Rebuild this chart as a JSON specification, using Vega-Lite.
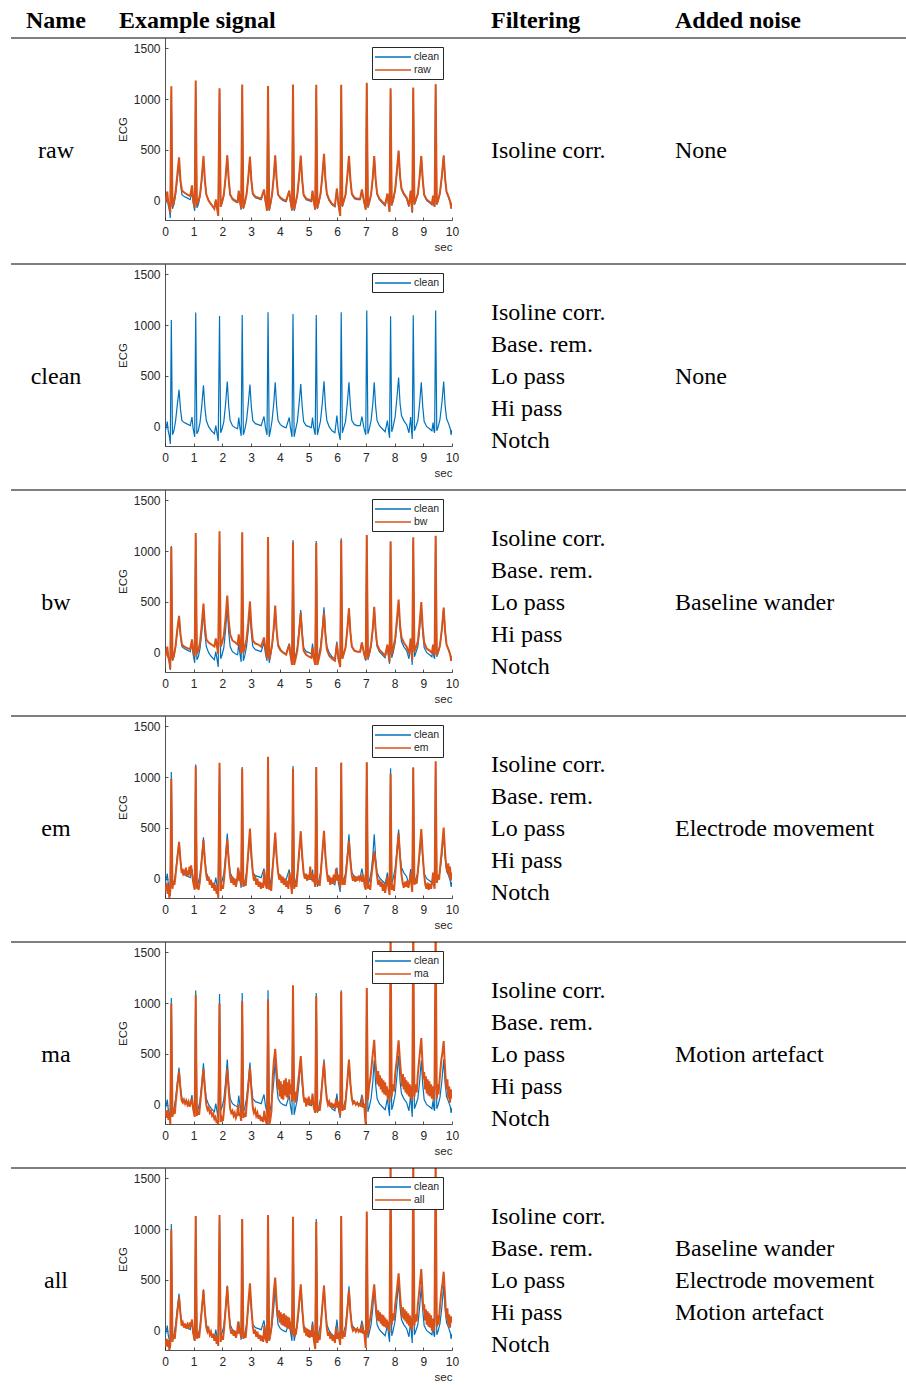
{
"$schema": "https://vega.github.io/schema/vega-lite/v6.json",
"padding": {"left": 10, "top": 0, "right": 0, "bottom": 0},
"background": "white",
"columns": 4,
"spacing": 0,
"bounds": "flush",
"align": "each",
"resolve": {"scale": {"x": "independent", "y": "independent", "color": "independent"}, "axis": {"x": "independent", "y": "independent"}, "legend": {"color": "independent"}},
"config": {
 "view": {"stroke": null},
 "numberFormat": "d",
 "axis": {"grid": false, "labelFlush": false, "domainColor": "#262626", "tickColor": "#262626", "labelColor": "#262626", "titleColor": "#262626", "labelFont": "Liberation Sans", "titleFont": "Liberation Sans", "labelFontSize": 12, "titleFontSize": 11.5, "titleFontWeight": "normal", "tickSize": -3, "domainWidth": 0.8, "tickWidth": 0.8},
 "axisX": {"labelPadding": 9, "titlePadding": 4, "titleAnchor": "end"},
 "axisY": {"labelPadding": 8, "titlePadding": 5},
 "legend": {"orient": "top-right", "offset": 9, "strokeColor": "#262626", "fillColor": "white", "padding": 3, "symbolType": "M-3,0H3", "symbolSize": 144, "symbolStrokeWidth": 1.5, "symbolOffset": 11, "labelFont": "Liberation Sans", "labelFontSize": 10.5, "labelColor": "#262626", "labelOffset": 14, "rowPadding": 0},
 "text": {"font": "Liberation Serif", "fontSize": 24, "color": "black"},
 "rule": {"color": "#000000", "strokeWidth": 1.2}
},
"datasets": {
"clean": [{"t":0,"v":-50},{"t":0.03,"v":-20},{"t":0.08,"v":50},{"t":0.11,"v":-40},{"t":0.15,"v":-90},{"t":0.185,"v":-170},{"t":0.22,"v":1050},{"t":0.26,"v":-80},{"t":0.31,"v":-40},{"t":0.37,"v":60},{"t":0.43,"v":220},{"t":0.49,"v":364},{"t":0.54,"v":170},{"t":0.59,"v":60},{"t":0.67,"v":40},{"t":0.78,"v":25},{"t":0.88,"v":10},{"t":0.94,"v":95},{"t":0.98,"v":-20},{"t":1.035,"v":-100},{"t":1.07,"v":1122},{"t":1.11,"v":-70},{"t":1.16,"v":-40},{"t":1.22,"v":40},{"t":1.28,"v":200},{"t":1.34,"v":407},{"t":1.39,"v":190},{"t":1.44,"v":60},{"t":1.52,"v":0},{"t":1.62,"v":-40},{"t":1.72,"v":-70},{"t":1.77,"v":10},{"t":1.81,"v":-60},{"t":1.855,"v":-140},{"t":1.9,"v":1089},{"t":1.94,"v":-60},{"t":1.99,"v":-20},{"t":2.05,"v":50},{"t":2.11,"v":220},{"t":2.17,"v":444},{"t":2.22,"v":200},{"t":2.27,"v":60},{"t":2.35,"v":10},{"t":2.45,"v":-10},{"t":2.53,"v":-20},{"t":2.57,"v":90},{"t":2.61,"v":-10},{"t":2.655,"v":-90},{"t":2.69,"v":1099},{"t":2.73,"v":-80},{"t":2.78,"v":-30},{"t":2.84,"v":60},{"t":2.9,"v":220},{"t":2.96,"v":414},{"t":3.01,"v":190},{"t":3.06,"v":60},{"t":3.15,"v":30},{"t":3.25,"v":20},{"t":3.35,"v":10},{"t":3.45,"v":100},{"t":3.5,"v":-10},{"t":3.555,"v":-80},{"t":3.59,"v":1126},{"t":3.63,"v":-100},{"t":3.68,"v":-30},{"t":3.73,"v":60},{"t":3.79,"v":230},{"t":3.84,"v":437},{"t":3.89,"v":200},{"t":3.94,"v":60},{"t":4.02,"v":20},{"t":4.12,"v":0},{"t":4.22,"v":-10},{"t":4.33,"v":90},{"t":4.37,"v":-10},{"t":4.425,"v":-100},{"t":4.46,"v":1109},{"t":4.5,"v":-100},{"t":4.55,"v":-30},{"t":4.61,"v":50},{"t":4.67,"v":220},{"t":4.73,"v":420},{"t":4.78,"v":200},{"t":4.83,"v":50},{"t":4.92,"v":10},{"t":5.02,"v":0},{"t":5.1,"v":-10},{"t":5.14,"v":90},{"t":5.18,"v":-10},{"t":5.235,"v":-80},{"t":5.27,"v":1099},{"t":5.31,"v":-80},{"t":5.36,"v":-20},{"t":5.42,"v":60},{"t":5.48,"v":230},{"t":5.54,"v":447},{"t":5.59,"v":200},{"t":5.64,"v":60},{"t":5.72,"v":0},{"t":5.82,"v":-40},{"t":5.92,"v":-60},{"t":5.99,"v":110},{"t":6.04,"v":-40},{"t":6.105,"v":-130},{"t":6.14,"v":1126},{"t":6.18,"v":-60},{"t":6.23,"v":-10},{"t":6.29,"v":50},{"t":6.35,"v":220},{"t":6.41,"v":437},{"t":6.46,"v":200},{"t":6.51,"v":60},{"t":6.6,"v":20},{"t":6.7,"v":10},{"t":6.8,"v":10},{"t":6.86,"v":100},{"t":6.93,"v":-10},{"t":6.995,"v":-80},{"t":7.03,"v":1142},{"t":7.07,"v":-70},{"t":7.12,"v":-20},{"t":7.18,"v":60},{"t":7.24,"v":220},{"t":7.29,"v":437},{"t":7.34,"v":200},{"t":7.39,"v":60},{"t":7.47,"v":10},{"t":7.57,"v":-20},{"t":7.67,"v":-50},{"t":7.75,"v":60},{"t":7.79,"v":-40},{"t":7.825,"v":-110},{"t":7.86,"v":1086},{"t":7.9,"v":-50},{"t":7.95,"v":0},{"t":8.02,"v":100},{"t":8.08,"v":280},{"t":8.14,"v":483},{"t":8.19,"v":230},{"t":8.24,"v":110},{"t":8.32,"v":60},{"t":8.42,"v":20},{"t":8.5,"v":-60},{"t":8.56,"v":95},{"t":8.59,"v":-40},{"t":8.615,"v":-120},{"t":8.65,"v":1096},{"t":8.69,"v":-40},{"t":8.74,"v":0},{"t":8.81,"v":60},{"t":8.87,"v":220},{"t":8.93,"v":437},{"t":8.98,"v":200},{"t":9.03,"v":50},{"t":9.12,"v":0},{"t":9.22,"v":-20},{"t":9.3,"v":-40},{"t":9.34,"v":40},{"t":9.37,"v":-40},{"t":9.395,"v":-60},{"t":9.43,"v":1142},{"t":9.47,"v":-40},{"t":9.52,"v":0},{"t":9.58,"v":70},{"t":9.65,"v":240},{"t":9.71,"v":444},{"t":9.76,"v":210},{"t":9.81,"v":80},{"t":9.88,"v":30},{"t":9.94,"v":-20},{"t":9.97,"v":-80},{"t":10,"v":-30}],
"raw": [{"t":0,"v":-20},{"t":0.03,"v":10},{"t":0.08,"v":90},{"t":0.11,"v":-10},{"t":0.15,"v":-60},{"t":0.185,"v":-120},{"t":0.22,"v":1126},{"t":0.26,"v":-60},{"t":0.31,"v":-10},{"t":0.37,"v":90},{"t":0.43,"v":260},{"t":0.49,"v":426},{"t":0.54,"v":200},{"t":0.59,"v":100},{"t":0.67,"v":80},{"t":0.78,"v":60},{"t":0.88,"v":45},{"t":0.94,"v":150},{"t":0.98,"v":10},{"t":1.035,"v":-70},{"t":1.07,"v":1182},{"t":1.11,"v":-40},{"t":1.16,"v":-10},{"t":1.22,"v":60},{"t":1.28,"v":220},{"t":1.34,"v":440},{"t":1.39,"v":200},{"t":1.44,"v":60},{"t":1.52,"v":0},{"t":1.62,"v":-40},{"t":1.72,"v":-80},{"t":1.77,"v":10},{"t":1.81,"v":-70},{"t":1.855,"v":-150},{"t":1.9,"v":1105},{"t":1.94,"v":-60},{"t":1.99,"v":-10},{"t":2.05,"v":60},{"t":2.11,"v":230},{"t":2.17,"v":446},{"t":2.22,"v":210},{"t":2.27,"v":60},{"t":2.35,"v":20},{"t":2.45,"v":0},{"t":2.53,"v":-10},{"t":2.57,"v":100},{"t":2.61,"v":0},{"t":2.655,"v":-80},{"t":2.69,"v":1142},{"t":2.73,"v":-70},{"t":2.78,"v":-20},{"t":2.84,"v":60},{"t":2.9,"v":220},{"t":2.96,"v":433},{"t":3.01,"v":200},{"t":3.06,"v":70},{"t":3.15,"v":40},{"t":3.25,"v":30},{"t":3.35,"v":20},{"t":3.45,"v":110},{"t":3.5,"v":0},{"t":3.555,"v":-100},{"t":3.59,"v":1129},{"t":3.63,"v":-90},{"t":3.68,"v":-20},{"t":3.73,"v":60},{"t":3.79,"v":240},{"t":3.84,"v":446},{"t":3.89,"v":210},{"t":3.94,"v":60},{"t":4.02,"v":30},{"t":4.12,"v":10},{"t":4.22,"v":0},{"t":4.33,"v":100},{"t":4.37,"v":0},{"t":4.425,"v":-90},{"t":4.46,"v":1142},{"t":4.5,"v":-90},{"t":4.55,"v":-20},{"t":4.61,"v":60},{"t":4.67,"v":230},{"t":4.73,"v":443},{"t":4.78,"v":210},{"t":4.83,"v":60},{"t":4.92,"v":20},{"t":5.02,"v":10},{"t":5.1,"v":0},{"t":5.14,"v":100},{"t":5.18,"v":0},{"t":5.235,"v":-90},{"t":5.27,"v":1139},{"t":5.31,"v":-70},{"t":5.36,"v":-10},{"t":5.42,"v":70},{"t":5.48,"v":240},{"t":5.54,"v":460},{"t":5.59,"v":210},{"t":5.64,"v":70},{"t":5.72,"v":10},{"t":5.82,"v":-30},{"t":5.92,"v":-50},{"t":5.99,"v":120},{"t":6.04,"v":-30},{"t":6.105,"v":-150},{"t":6.14,"v":1139},{"t":6.18,"v":-50},{"t":6.23,"v":0},{"t":6.29,"v":60},{"t":6.35,"v":230},{"t":6.41,"v":440},{"t":6.46,"v":210},{"t":6.51,"v":70},{"t":6.6,"v":30},{"t":6.7,"v":20},{"t":6.8,"v":20},{"t":6.86,"v":110},{"t":6.93,"v":0},{"t":6.995,"v":-90},{"t":7.03,"v":1159},{"t":7.07,"v":-60},{"t":7.12,"v":-10},{"t":7.18,"v":60},{"t":7.24,"v":230},{"t":7.29,"v":440},{"t":7.34,"v":210},{"t":7.39,"v":70},{"t":7.47,"v":20},{"t":7.57,"v":-10},{"t":7.67,"v":-40},{"t":7.75,"v":70},{"t":7.79,"v":-30},{"t":7.825,"v":-110},{"t":7.86,"v":1106},{"t":7.9,"v":-40},{"t":7.95,"v":10},{"t":8.02,"v":110},{"t":8.08,"v":290},{"t":8.14,"v":493},{"t":8.19,"v":240},{"t":8.24,"v":120},{"t":8.32,"v":70},{"t":8.42,"v":30},{"t":8.5,"v":-50},{"t":8.56,"v":100},{"t":8.59,"v":-30},{"t":8.615,"v":-110},{"t":8.65,"v":1112},{"t":8.69,"v":-30},{"t":8.74,"v":10},{"t":8.81,"v":70},{"t":8.87,"v":230},{"t":8.93,"v":440},{"t":8.98,"v":210},{"t":9.03,"v":60},{"t":9.12,"v":10},{"t":9.22,"v":-10},{"t":9.3,"v":-30},{"t":9.34,"v":50},{"t":9.37,"v":-30},{"t":9.395,"v":-60},{"t":9.43,"v":1146},{"t":9.47,"v":-30},{"t":9.52,"v":10},{"t":9.58,"v":80},{"t":9.65,"v":250},{"t":9.71,"v":443},{"t":9.76,"v":220},{"t":9.81,"v":90},{"t":9.88,"v":40},{"t":9.94,"v":-10},{"t":9.97,"v":-70},{"t":10,"v":-20}],
"bw": [{"t":0,"v":-50},{"t":0.03,"v":-20},{"t":0.08,"v":60},{"t":0.11,"v":-40},{"t":0.15,"v":-80},{"t":0.185,"v":-160},{"t":0.22,"v":1040},{"t":0.26,"v":-70},{"t":0.31,"v":-30},{"t":0.37,"v":70},{"t":0.43,"v":230},{"t":0.49,"v":360},{"t":0.54,"v":180},{"t":0.59,"v":80},{"t":0.67,"v":60},{"t":0.78,"v":45},{"t":0.88,"v":35},{"t":0.94,"v":130},{"t":0.98,"v":20},{"t":1.035,"v":-40},{"t":1.07,"v":1177},{"t":1.11,"v":-10},{"t":1.16,"v":20},{"t":1.22,"v":100},{"t":1.28,"v":270},{"t":1.34,"v":484},{"t":1.39,"v":260},{"t":1.44,"v":130},{"t":1.52,"v":100},{"t":1.62,"v":80},{"t":1.72,"v":60},{"t":1.77,"v":140},{"t":1.81,"v":60},{"t":1.855,"v":-10},{"t":1.9,"v":1193},{"t":1.94,"v":60},{"t":1.99,"v":100},{"t":2.05,"v":170},{"t":2.11,"v":340},{"t":2.17,"v":562},{"t":2.22,"v":320},{"t":2.27,"v":180},{"t":2.35,"v":120},{"t":2.45,"v":100},{"t":2.53,"v":80},{"t":2.57,"v":180},{"t":2.61,"v":70},{"t":2.655,"v":-10},{"t":2.69,"v":1184},{"t":2.73,"v":0},{"t":2.78,"v":50},{"t":2.84,"v":130},{"t":2.9,"v":290},{"t":2.96,"v":504},{"t":3.01,"v":260},{"t":3.06,"v":120},{"t":3.15,"v":90},{"t":3.25,"v":80},{"t":3.35,"v":60},{"t":3.45,"v":150},{"t":3.5,"v":40},{"t":3.555,"v":-50},{"t":3.59,"v":1138},{"t":3.63,"v":-70},{"t":3.68,"v":0},{"t":3.73,"v":80},{"t":3.79,"v":250},{"t":3.84,"v":464},{"t":3.89,"v":220},{"t":3.94,"v":80},{"t":4.02,"v":30},{"t":4.12,"v":0},{"t":4.22,"v":-20},{"t":4.33,"v":80},{"t":4.37,"v":-20},{"t":4.425,"v":-120},{"t":4.46,"v":1089},{"t":4.5,"v":-120},{"t":4.55,"v":-60},{"t":4.61,"v":20},{"t":4.67,"v":190},{"t":4.73,"v":392},{"t":4.78,"v":170},{"t":4.83,"v":20},{"t":4.92,"v":-20},{"t":5.02,"v":-40},{"t":5.1,"v":-50},{"t":5.14,"v":50},{"t":5.18,"v":-50},{"t":5.235,"v":-120},{"t":5.27,"v":1079},{"t":5.31,"v":-120},{"t":5.36,"v":-60},{"t":5.42,"v":20},{"t":5.48,"v":190},{"t":5.54,"v":392},{"t":5.59,"v":170},{"t":5.64,"v":30},{"t":5.72,"v":-30},{"t":5.82,"v":-60},{"t":5.92,"v":-80},{"t":5.99,"v":90},{"t":6.04,"v":-60},{"t":6.105,"v":-140},{"t":6.14,"v":1105},{"t":6.18,"v":-60},{"t":6.23,"v":-10},{"t":6.29,"v":50},{"t":6.35,"v":220},{"t":6.41,"v":435},{"t":6.46,"v":200},{"t":6.51,"v":60},{"t":6.6,"v":20},{"t":6.7,"v":10},{"t":6.8,"v":10},{"t":6.86,"v":100},{"t":6.93,"v":0},{"t":6.995,"v":-70},{"t":7.03,"v":1158},{"t":7.07,"v":-50},{"t":7.12,"v":0},{"t":7.18,"v":80},{"t":7.24,"v":240},{"t":7.29,"v":451},{"t":7.34,"v":220},{"t":7.39,"v":80},{"t":7.47,"v":30},{"t":7.57,"v":0},{"t":7.67,"v":-30},{"t":7.75,"v":80},{"t":7.79,"v":-20},{"t":7.825,"v":-90},{"t":7.86,"v":1095},{"t":7.9,"v":-20},{"t":7.95,"v":40},{"t":8.02,"v":140},{"t":8.08,"v":320},{"t":8.14,"v":523},{"t":8.19,"v":270},{"t":8.24,"v":150},{"t":8.32,"v":100},{"t":8.42,"v":60},{"t":8.5,"v":-10},{"t":8.56,"v":140},{"t":8.59,"v":10},{"t":8.615,"v":-70},{"t":8.65,"v":1135},{"t":8.69,"v":10},{"t":8.74,"v":50},{"t":8.81,"v":110},{"t":8.87,"v":280},{"t":8.93,"v":497},{"t":8.98,"v":250},{"t":9.03,"v":100},{"t":9.12,"v":40},{"t":9.22,"v":20},{"t":9.3,"v":0},{"t":9.34,"v":80},{"t":9.37,"v":0},{"t":9.395,"v":-20},{"t":9.43,"v":1151},{"t":9.47,"v":-20},{"t":9.52,"v":10},{"t":9.58,"v":70},{"t":9.65,"v":240},{"t":9.71,"v":441},{"t":9.76,"v":210},{"t":9.81,"v":80},{"t":9.88,"v":30},{"t":9.94,"v":-20},{"t":9.97,"v":-80},{"t":10,"v":-40}],
"em": [{"t":0,"v":-80},{"t":0.03,"v":-120},{"t":0.06,"v":-40},{"t":0.09,"v":-150},{"t":0.12,"v":-60},{"t":0.15,"v":-190},{"t":0.185,"v":-120},{"t":0.22,"v":983},{"t":0.26,"v":-100},{"t":0.29,"v":-20},{"t":0.33,"v":-60},{"t":0.37,"v":40},{"t":0.43,"v":200},{"t":0.49,"v":360},{"t":0.54,"v":180},{"t":0.58,"v":60},{"t":0.61,"v":100},{"t":0.64,"v":30},{"t":0.67,"v":90},{"t":0.7,"v":40},{"t":0.73,"v":110},{"t":0.76,"v":20},{"t":0.79,"v":80},{"t":0.82,"v":30},{"t":0.85,"v":120},{"t":0.88,"v":40},{"t":0.91,"v":130},{"t":0.94,"v":60},{"t":0.98,"v":-30},{"t":1.035,"v":-110},{"t":1.07,"v":1105},{"t":1.11,"v":-100},{"t":1.14,"v":-60},{"t":1.17,"v":-110},{"t":1.21,"v":-40},{"t":1.28,"v":180},{"t":1.34,"v":380},{"t":1.39,"v":170},{"t":1.44,"v":30},{"t":1.48,"v":-20},{"t":1.52,"v":20},{"t":1.56,"v":-60},{"t":1.6,"v":-10},{"t":1.64,"v":-90},{"t":1.68,"v":-40},{"t":1.72,"v":-120},{"t":1.76,"v":-60},{"t":1.8,"v":-150},{"t":1.83,"v":-80},{"t":1.855,"v":-190},{"t":1.9,"v":1139},{"t":1.94,"v":-120},{"t":1.98,"v":-60},{"t":2.02,"v":-100},{"t":2.06,"v":0},{"t":2.11,"v":180},{"t":2.17,"v":387},{"t":2.22,"v":180},{"t":2.27,"v":20},{"t":2.31,"v":-40},{"t":2.35,"v":20},{"t":2.39,"v":-60},{"t":2.43,"v":0},{"t":2.47,"v":-80},{"t":2.51,"v":-20},{"t":2.55,"v":110},{"t":2.58,"v":-20},{"t":2.61,"v":60},{"t":2.655,"v":-60},{"t":2.69,"v":1082},{"t":2.73,"v":-80},{"t":2.77,"v":-20},{"t":2.81,"v":-70},{"t":2.85,"v":60},{"t":2.9,"v":260},{"t":2.96,"v":493},{"t":3.01,"v":240},{"t":3.06,"v":60},{"t":3.1,"v":-20},{"t":3.14,"v":30},{"t":3.18,"v":-60},{"t":3.22,"v":0},{"t":3.26,"v":-80},{"t":3.3,"v":-30},{"t":3.34,"v":-100},{"t":3.38,"v":-40},{"t":3.42,"v":-90},{"t":3.46,"v":80},{"t":3.5,"v":-60},{"t":3.555,"v":-100},{"t":3.59,"v":1198},{"t":3.63,"v":-110},{"t":3.66,"v":-60},{"t":3.7,"v":-120},{"t":3.74,"v":60},{"t":3.79,"v":250},{"t":3.84,"v":453},{"t":3.89,"v":220},{"t":3.94,"v":60},{"t":3.98,"v":-10},{"t":4.02,"v":40},{"t":4.06,"v":-40},{"t":4.1,"v":20},{"t":4.14,"v":-60},{"t":4.18,"v":0},{"t":4.22,"v":-80},{"t":4.26,"v":-20},{"t":4.3,"v":-100},{"t":4.34,"v":60},{"t":4.38,"v":-40},{"t":4.425,"v":-150},{"t":4.46,"v":1082},{"t":4.5,"v":-100},{"t":4.54,"v":-30},{"t":4.58,"v":-80},{"t":4.62,"v":60},{"t":4.67,"v":250},{"t":4.73,"v":467},{"t":4.78,"v":230},{"t":4.83,"v":60},{"t":4.87,"v":0},{"t":4.91,"v":50},{"t":4.95,"v":-20},{"t":4.99,"v":40},{"t":5.03,"v":-10},{"t":5.06,"v":120},{"t":5.09,"v":0},{"t":5.12,"v":60},{"t":5.15,"v":-30},{"t":5.18,"v":40},{"t":5.235,"v":-80},{"t":5.27,"v":1099},{"t":5.31,"v":-60},{"t":5.35,"v":-20},{"t":5.39,"v":-70},{"t":5.43,"v":60},{"t":5.48,"v":250},{"t":5.54,"v":470},{"t":5.59,"v":230},{"t":5.64,"v":60},{"t":5.68,"v":-30},{"t":5.72,"v":30},{"t":5.76,"v":-60},{"t":5.8,"v":10},{"t":5.84,"v":-50},{"t":5.88,"v":40},{"t":5.92,"v":-40},{"t":5.96,"v":100},{"t":6,"v":-20},{"t":6.04,"v":40},{"t":6.105,"v":-90},{"t":6.14,"v":1142},{"t":6.18,"v":-60},{"t":6.22,"v":-20},{"t":6.26,"v":-60},{"t":6.3,"v":40},{"t":6.35,"v":180},{"t":6.41,"v":370},{"t":6.46,"v":170},{"t":6.51,"v":30},{"t":6.55,"v":-20},{"t":6.59,"v":30},{"t":6.63,"v":-30},{"t":6.67,"v":20},{"t":6.71,"v":-20},{"t":6.75,"v":30},{"t":6.79,"v":-10},{"t":6.83,"v":20},{"t":6.87,"v":-30},{"t":6.91,"v":40},{"t":6.95,"v":-60},{"t":6.995,"v":-110},{"t":7.03,"v":1145},{"t":7.07,"v":-100},{"t":7.11,"v":-60},{"t":7.15,"v":-110},{"t":7.19,"v":20},{"t":7.24,"v":140},{"t":7.29,"v":270},{"t":7.34,"v":150},{"t":7.39,"v":20},{"t":7.43,"v":-60},{"t":7.47,"v":-10},{"t":7.51,"v":-80},{"t":7.55,"v":-30},{"t":7.59,"v":-120},{"t":7.63,"v":-50},{"t":7.67,"v":-140},{"t":7.71,"v":-60},{"t":7.75,"v":20},{"t":7.79,"v":-100},{"t":7.825,"v":-160},{"t":7.86,"v":1033},{"t":7.9,"v":-110},{"t":7.94,"v":-60},{"t":7.98,"v":-120},{"t":8.02,"v":40},{"t":8.08,"v":240},{"t":8.14,"v":447},{"t":8.19,"v":210},{"t":8.24,"v":40},{"t":8.28,"v":-40},{"t":8.32,"v":-90},{"t":8.36,"v":-30},{"t":8.4,"v":-80},{"t":8.44,"v":-20},{"t":8.48,"v":-90},{"t":8.52,"v":-30},{"t":8.56,"v":60},{"t":8.59,"v":-60},{"t":8.615,"v":-130},{"t":8.65,"v":1092},{"t":8.69,"v":-60},{"t":8.73,"v":-10},{"t":8.77,"v":-50},{"t":8.81,"v":70},{"t":8.87,"v":270},{"t":8.93,"v":487},{"t":8.98,"v":240},{"t":9.03,"v":40},{"t":9.07,"v":-60},{"t":9.11,"v":-100},{"t":9.15,"v":-40},{"t":9.19,"v":-110},{"t":9.23,"v":-50},{"t":9.27,"v":-100},{"t":9.31,"v":-30},{"t":9.34,"v":60},{"t":9.37,"v":-60},{"t":9.395,"v":-100},{"t":9.43,"v":1155},{"t":9.47,"v":-40},{"t":9.51,"v":40},{"t":9.55,"v":-10},{"t":9.59,"v":120},{"t":9.65,"v":300},{"t":9.71,"v":503},{"t":9.76,"v":250},{"t":9.8,"v":120},{"t":9.84,"v":60},{"t":9.87,"v":150},{"t":9.9,"v":20},{"t":9.93,"v":120},{"t":9.96,"v":-20},{"t":10,"v":60}],
"ma": [{"t":0,"v":-100},{"t":0.03,"v":-60},{"t":0.06,"v":-130},{"t":0.09,"v":-50},{"t":0.12,"v":-150},{"t":0.15,"v":-100},{"t":0.185,"v":-190},{"t":0.22,"v":994},{"t":0.26,"v":-120},{"t":0.3,"v":-60},{"t":0.34,"v":-90},{"t":0.38,"v":40},{"t":0.43,"v":180},{"t":0.49,"v":326},{"t":0.54,"v":150},{"t":0.58,"v":40},{"t":0.62,"v":20},{"t":0.66,"v":50},{"t":0.7,"v":10},{"t":0.74,"v":40},{"t":0.78,"v":0},{"t":0.82,"v":30},{"t":0.86,"v":-20},{"t":0.9,"v":20},{"t":0.94,"v":60},{"t":0.98,"v":-40},{"t":1.035,"v":-120},{"t":1.07,"v":1076},{"t":1.11,"v":-110},{"t":1.15,"v":-60},{"t":1.19,"v":-100},{"t":1.23,"v":20},{"t":1.28,"v":170},{"t":1.34,"v":352},{"t":1.39,"v":150},{"t":1.44,"v":0},{"t":1.48,"v":-50},{"t":1.52,"v":-30},{"t":1.56,"v":-80},{"t":1.6,"v":-60},{"t":1.64,"v":-110},{"t":1.68,"v":-90},{"t":1.72,"v":-140},{"t":1.76,"v":-120},{"t":1.8,"v":-180},{"t":1.83,"v":-150},{"t":1.855,"v":-200},{"t":1.9,"v":994},{"t":1.94,"v":-170},{"t":1.98,"v":-130},{"t":2.02,"v":-160},{"t":2.06,"v":-40},{"t":2.11,"v":140},{"t":2.17,"v":352},{"t":2.22,"v":140},{"t":2.27,"v":-40},{"t":2.31,"v":-80},{"t":2.35,"v":-60},{"t":2.39,"v":-110},{"t":2.43,"v":-80},{"t":2.47,"v":-130},{"t":2.51,"v":-100},{"t":2.55,"v":0},{"t":2.58,"v":-110},{"t":2.61,"v":-80},{"t":2.655,"v":-160},{"t":2.69,"v":1017},{"t":2.73,"v":-130},{"t":2.77,"v":-80},{"t":2.81,"v":-120},{"t":2.85,"v":20},{"t":2.9,"v":170},{"t":2.96,"v":368},{"t":3.01,"v":150},{"t":3.06,"v":-30},{"t":3.1,"v":-80},{"t":3.14,"v":-50},{"t":3.18,"v":-110},{"t":3.22,"v":-80},{"t":3.26,"v":-140},{"t":3.3,"v":-100},{"t":3.34,"v":-160},{"t":3.38,"v":-120},{"t":3.42,"v":-170},{"t":3.46,"v":-60},{"t":3.5,"v":-150},{"t":3.555,"v":-200},{"t":3.59,"v":1036},{"t":3.63,"v":-200},{"t":3.67,"v":-150},{"t":3.71,"v":-60},{"t":3.75,"v":250},{"t":3.79,"v":420},{"t":3.84,"v":550},{"t":3.88,"v":380},{"t":3.91,"v":270},{"t":3.94,"v":150},{"t":3.97,"v":250},{"t":4,"v":80},{"t":4.03,"v":230},{"t":4.06,"v":60},{"t":4.09,"v":200},{"t":4.12,"v":50},{"t":4.15,"v":240},{"t":4.18,"v":90},{"t":4.21,"v":260},{"t":4.24,"v":70},{"t":4.27,"v":220},{"t":4.3,"v":60},{"t":4.33,"v":250},{"t":4.36,"v":100},{"t":4.39,"v":200},{"t":4.425,"v":30},{"t":4.46,"v":1175},{"t":4.5,"v":40},{"t":4.53,"v":130},{"t":4.56,"v":20},{"t":4.6,"v":120},{"t":4.67,"v":300},{"t":4.73,"v":477},{"t":4.78,"v":260},{"t":4.83,"v":80},{"t":4.86,"v":20},{"t":4.89,"v":70},{"t":4.92,"v":-20},{"t":4.95,"v":60},{"t":4.98,"v":0},{"t":5.01,"v":80},{"t":5.04,"v":-10},{"t":5.07,"v":50},{"t":5.11,"v":0},{"t":5.14,"v":110},{"t":5.18,"v":-20},{"t":5.235,"v":-80},{"t":5.27,"v":1069},{"t":5.31,"v":-70},{"t":5.35,"v":-20},{"t":5.39,"v":-60},{"t":5.43,"v":40},{"t":5.48,"v":220},{"t":5.54,"v":418},{"t":5.59,"v":200},{"t":5.64,"v":50},{"t":5.68,"v":0},{"t":5.72,"v":30},{"t":5.76,"v":-20},{"t":5.8,"v":20},{"t":5.84,"v":-30},{"t":5.88,"v":10},{"t":5.92,"v":-40},{"t":5.96,"v":60},{"t":6,"v":-30},{"t":6.04,"v":30},{"t":6.105,"v":-110},{"t":6.14,"v":1109},{"t":6.18,"v":-60},{"t":6.22,"v":-10},{"t":6.26,"v":-50},{"t":6.3,"v":50},{"t":6.35,"v":220},{"t":6.41,"v":444},{"t":6.46,"v":210},{"t":6.51,"v":60},{"t":6.55,"v":10},{"t":6.6,"v":30},{"t":6.65,"v":0},{"t":6.7,"v":20},{"t":6.75,"v":-10},{"t":6.8,"v":10},{"t":6.84,"v":-20},{"t":6.87,"v":80},{"t":6.9,"v":-30},{"t":6.94,"v":10},{"t":6.97,"v":-120},{"t":6.995,"v":-200},{"t":7.03,"v":1148},{"t":7.07,"v":50},{"t":7.11,"v":180},{"t":7.15,"v":250},{"t":7.19,"v":350},{"t":7.24,"v":500},{"t":7.29,"v":638},{"t":7.33,"v":420},{"t":7.37,"v":300},{"t":7.4,"v":200},{"t":7.43,"v":330},{"t":7.46,"v":180},{"t":7.49,"v":290},{"t":7.52,"v":150},{"t":7.55,"v":260},{"t":7.58,"v":120},{"t":7.61,"v":240},{"t":7.64,"v":100},{"t":7.67,"v":220},{"t":7.7,"v":90},{"t":7.73,"v":180},{"t":7.76,"v":60},{"t":7.79,"v":150},{"t":7.825,"v":20},{"t":7.86,"v":1750},{"t":7.9,"v":80},{"t":7.94,"v":200},{"t":7.98,"v":130},{"t":8.02,"v":300},{"t":8.08,"v":450},{"t":8.14,"v":632},{"t":8.19,"v":420},{"t":8.23,"v":280},{"t":8.26,"v":180},{"t":8.29,"v":300},{"t":8.32,"v":150},{"t":8.35,"v":270},{"t":8.38,"v":120},{"t":8.41,"v":240},{"t":8.44,"v":100},{"t":8.47,"v":220},{"t":8.5,"v":80},{"t":8.53,"v":200},{"t":8.56,"v":60},{"t":8.59,"v":180},{"t":8.615,"v":40},{"t":8.65,"v":1800},{"t":8.69,"v":80},{"t":8.73,"v":200},{"t":8.77,"v":120},{"t":8.81,"v":300},{"t":8.87,"v":480},{"t":8.93,"v":655},{"t":8.97,"v":420},{"t":9,"v":250},{"t":9.03,"v":320},{"t":9.06,"v":150},{"t":9.09,"v":280},{"t":9.12,"v":110},{"t":9.15,"v":250},{"t":9.18,"v":90},{"t":9.21,"v":230},{"t":9.24,"v":80},{"t":9.27,"v":200},{"t":9.3,"v":60},{"t":9.33,"v":180},{"t":9.36,"v":40},{"t":9.39,"v":150},{"t":9.43,"v":1800},{"t":9.47,"v":60},{"t":9.5,"v":200},{"t":9.53,"v":100},{"t":9.57,"v":250},{"t":9.62,"v":420},{"t":9.67,"v":520},{"t":9.71,"v":625},{"t":9.75,"v":400},{"t":9.78,"v":250},{"t":9.81,"v":150},{"t":9.84,"v":250},{"t":9.87,"v":60},{"t":9.9,"v":180},{"t":9.93,"v":20},{"t":9.96,"v":150},{"t":10,"v":60}],
"all": [{"t":0,"v":-100},{"t":0.03,"v":-150},{"t":0.06,"v":-80},{"t":0.09,"v":-160},{"t":0.12,"v":-90},{"t":0.15,"v":-190},{"t":0.185,"v":-140},{"t":0.22,"v":995},{"t":0.26,"v":-110},{"t":0.3,"v":-40},{"t":0.34,"v":-80},{"t":0.38,"v":40},{"t":0.43,"v":180},{"t":0.49,"v":330},{"t":0.54,"v":160},{"t":0.58,"v":50},{"t":0.62,"v":80},{"t":0.66,"v":30},{"t":0.7,"v":70},{"t":0.74,"v":20},{"t":0.78,"v":60},{"t":0.82,"v":20},{"t":0.86,"v":80},{"t":0.9,"v":40},{"t":0.94,"v":110},{"t":0.98,"v":-20},{"t":1.035,"v":-100},{"t":1.07,"v":1128},{"t":1.11,"v":-80},{"t":1.15,"v":-40},{"t":1.19,"v":-70},{"t":1.23,"v":40},{"t":1.28,"v":200},{"t":1.34,"v":396},{"t":1.39,"v":180},{"t":1.44,"v":30},{"t":1.48,"v":-10},{"t":1.52,"v":20},{"t":1.56,"v":-40},{"t":1.6,"v":-10},{"t":1.64,"v":-70},{"t":1.68,"v":-30},{"t":1.72,"v":-100},{"t":1.76,"v":-40},{"t":1.8,"v":-130},{"t":1.83,"v":-70},{"t":1.855,"v":-150},{"t":1.9,"v":1138},{"t":1.94,"v":-110},{"t":1.98,"v":-50},{"t":2.02,"v":-90},{"t":2.06,"v":20},{"t":2.11,"v":200},{"t":2.17,"v":433},{"t":2.22,"v":200},{"t":2.27,"v":30},{"t":2.31,"v":-30},{"t":2.35,"v":10},{"t":2.39,"v":-50},{"t":2.43,"v":0},{"t":2.47,"v":-70},{"t":2.51,"v":-20},{"t":2.55,"v":90},{"t":2.58,"v":-30},{"t":2.61,"v":30},{"t":2.655,"v":-70},{"t":2.69,"v":1098},{"t":2.73,"v":-80},{"t":2.77,"v":-20},{"t":2.81,"v":-70},{"t":2.85,"v":60},{"t":2.9,"v":260},{"t":2.96,"v":466},{"t":3.01,"v":230},{"t":3.06,"v":40},{"t":3.1,"v":-30},{"t":3.14,"v":10},{"t":3.18,"v":-60},{"t":3.22,"v":-10},{"t":3.26,"v":-80},{"t":3.3,"v":-40},{"t":3.34,"v":-100},{"t":3.38,"v":-50},{"t":3.42,"v":-110},{"t":3.46,"v":50},{"t":3.5,"v":-80},{"t":3.555,"v":-120},{"t":3.59,"v":1138},{"t":3.63,"v":-100},{"t":3.67,"v":-40},{"t":3.71,"v":40},{"t":3.75,"v":200},{"t":3.79,"v":380},{"t":3.84,"v":523},{"t":3.88,"v":330},{"t":3.91,"v":200},{"t":3.94,"v":120},{"t":3.97,"v":200},{"t":4,"v":80},{"t":4.03,"v":180},{"t":4.06,"v":60},{"t":4.09,"v":160},{"t":4.12,"v":50},{"t":4.15,"v":170},{"t":4.18,"v":40},{"t":4.21,"v":150},{"t":4.24,"v":30},{"t":4.27,"v":140},{"t":4.3,"v":20},{"t":4.33,"v":130},{"t":4.36,"v":10},{"t":4.39,"v":90},{"t":4.425,"v":-40},{"t":4.46,"v":1121},{"t":4.5,"v":-60},{"t":4.53,"v":20},{"t":4.56,"v":-40},{"t":4.6,"v":60},{"t":4.67,"v":260},{"t":4.73,"v":456},{"t":4.78,"v":230},{"t":4.83,"v":50},{"t":4.86,"v":-20},{"t":4.89,"v":30},{"t":4.92,"v":-50},{"t":4.95,"v":20},{"t":4.98,"v":-60},{"t":5.01,"v":10},{"t":5.04,"v":-70},{"t":5.07,"v":0},{"t":5.11,"v":-60},{"t":5.14,"v":60},{"t":5.18,"v":-80},{"t":5.235,"v":-180},{"t":5.27,"v":1071},{"t":5.31,"v":-120},{"t":5.35,"v":-60},{"t":5.39,"v":-90},{"t":5.43,"v":40},{"t":5.48,"v":230},{"t":5.54,"v":440},{"t":5.59,"v":210},{"t":5.64,"v":20},{"t":5.68,"v":-50},{"t":5.72,"v":-10},{"t":5.76,"v":-80},{"t":5.8,"v":-30},{"t":5.84,"v":-100},{"t":5.88,"v":-50},{"t":5.92,"v":-120},{"t":5.96,"v":40},{"t":6,"v":-80},{"t":6.04,"v":-20},{"t":6.105,"v":-140},{"t":6.14,"v":1128},{"t":6.18,"v":-80},{"t":6.22,"v":-20},{"t":6.26,"v":-60},{"t":6.3,"v":30},{"t":6.35,"v":180},{"t":6.41,"v":396},{"t":6.46,"v":180},{"t":6.51,"v":40},{"t":6.55,"v":0},{"t":6.6,"v":20},{"t":6.65,"v":-10},{"t":6.7,"v":20},{"t":6.75,"v":-10},{"t":6.8,"v":10},{"t":6.84,"v":-20},{"t":6.87,"v":70},{"t":6.9,"v":-30},{"t":6.94,"v":0},{"t":6.97,"v":-100},{"t":6.995,"v":-170},{"t":7.03,"v":1171},{"t":7.07,"v":-40},{"t":7.11,"v":60},{"t":7.15,"v":120},{"t":7.19,"v":200},{"t":7.24,"v":330},{"t":7.29,"v":456},{"t":7.33,"v":300},{"t":7.37,"v":180},{"t":7.4,"v":100},{"t":7.43,"v":200},{"t":7.46,"v":90},{"t":7.49,"v":180},{"t":7.52,"v":70},{"t":7.55,"v":160},{"t":7.58,"v":50},{"t":7.61,"v":150},{"t":7.64,"v":40},{"t":7.67,"v":130},{"t":7.7,"v":30},{"t":7.73,"v":110},{"t":7.76,"v":20},{"t":7.79,"v":90},{"t":7.825,"v":-20},{"t":7.86,"v":1700},{"t":7.9,"v":60},{"t":7.94,"v":170},{"t":7.98,"v":100},{"t":8.02,"v":250},{"t":8.08,"v":400},{"t":8.14,"v":563},{"t":8.19,"v":350},{"t":8.23,"v":220},{"t":8.26,"v":130},{"t":8.29,"v":230},{"t":8.32,"v":110},{"t":8.35,"v":210},{"t":8.38,"v":90},{"t":8.41,"v":190},{"t":8.44,"v":70},{"t":8.47,"v":170},{"t":8.5,"v":50},{"t":8.53,"v":150},{"t":8.56,"v":30},{"t":8.59,"v":130},{"t":8.615,"v":0},{"t":8.65,"v":1750},{"t":8.69,"v":50},{"t":8.73,"v":160},{"t":8.77,"v":90},{"t":8.81,"v":250},{"t":8.87,"v":420},{"t":8.93,"v":606},{"t":8.97,"v":380},{"t":9,"v":200},{"t":9.03,"v":260},{"t":9.06,"v":100},{"t":9.09,"v":210},{"t":9.12,"v":60},{"t":9.15,"v":190},{"t":9.18,"v":40},{"t":9.21,"v":170},{"t":9.24,"v":30},{"t":9.27,"v":150},{"t":9.3,"v":0},{"t":9.33,"v":120},{"t":9.36,"v":-10},{"t":9.39,"v":100},{"t":9.43,"v":1750},{"t":9.47,"v":40},{"t":9.5,"v":150},{"t":9.53,"v":60},{"t":9.57,"v":200},{"t":9.62,"v":360},{"t":9.67,"v":470},{"t":9.71,"v":580},{"t":9.75,"v":380},{"t":9.78,"v":220},{"t":9.81,"v":120},{"t":9.84,"v":220},{"t":9.87,"v":50},{"t":9.9,"v":160},{"t":9.93,"v":30},{"t":9.96,"v":140},{"t":10,"v":80}]
},
"concat": [
{"width": 90, "height": 38, "data": {"values": [{"h": "Name"}]}, "mark": {"type": "text", "fontWeight": "bold", "dy": 2}, "encoding": {"text": {"field": "h"}}},
{"width": 64, "height": 38, "data": {"values": [{"h": "Example signal"}]}, "mark": {"type": "text", "fontWeight": "bold", "align": "left", "dx": -14, "dy": 2}, "encoding": {"text": {"field": "h"}}},
{"width": 287, "height": 38, "data": {"values": [{"h": ""}]}, "mark": "text", "encoding": {"text": {"field": "h"}}},
{"width": 455, "height": 38, "data": {"values": [{"col": "Filtering"}, {"col": "Added noise"}]}, "mark": {"type": "text", "fontWeight": "bold", "align": "left", "dy": 2}, "encoding": {"x": {"field": "col", "type": "nominal", "scale": {"type": "band", "domain": ["Filtering", "Added noise"], "paddingInner": 0, "paddingOuter": 0.2364, "align": 0.448}, "axis": null, "bandPosition": 0}, "text": {"field": "col"}}},

{"width": 90, "height": 225.4, "data": {"values": [{"name": "raw"}]}, "layer": [{"mark": "text", "encoding": {"text": {"field": "name"}}}, {"mark": "rule", "encoding": {"y": {"datum": 1, "type": "quantitative", "scale": {"domain": [0, 1]}, "axis": null}}}]},
{"width": 64, "height": 225.4, "data": {"values": [{}]}, "mark": "rule", "encoding": {"y": {"datum": 1, "type": "quantitative", "scale": {"domain": [0, 1]}, "axis": null}}},
{"width": 287, "height": 182, "layer": [
 {"data": {"name": "clean"}, "mark": {"type": "line", "strokeWidth": 1.2, "clip": true}, "encoding": {"x": {"field": "t", "type": "quantitative", "scale": {"domain": [0, 10], "nice": false}, "axis": {"values": [0,1,2,3,4,5,6,7,8,9,10], "title": "sec"}}, "y": {"field": "v", "type": "quantitative", "scale": {"domain": [-190, 1600], "nice": false, "zero": false}, "axis": {"values": [0,500,1000,1500], "title": "ECG"}}, "color": {"datum": "clean", "type": "nominal", "scale": {"domain": ["clean", "raw"], "range": ["#0072BD", "#D95319"]}, "legend": {"title": null}}}},
 {"data": {"name": "raw"}, "mark": {"type": "line", "strokeWidth": 2, "clip": true}, "encoding": {"x": {"field": "t", "type": "quantitative", "scale": {"domain": [0, 10], "nice": false}, "axis": {"values": [0,1,2,3,4,5,6,7,8,9,10], "title": "sec"}}, "y": {"field": "v", "type": "quantitative", "scale": {"domain": [-190, 1600], "nice": false, "zero": false}, "axis": {"values": [0,500,1000,1500], "title": "ECG"}}, "color": {"datum": "raw", "type": "nominal", "scale": {"domain": ["clean", "raw"], "range": ["#0072BD", "#D95319"]}, "legend": {"title": null}}}},
 {"data": {"values": [{}]}, "mark": "rule", "encoding": {"y": {"datum": 1600, "type": "quantitative", "axis": {"values": [0,500,1000,1500], "title": "ECG"}}}}
]},
{"width": 455, "height": 225.4, "layer": [
 {"data": {"values": [{"col": "Filtering", "txt": "Isoline corr."}, {"col": "Added noise", "txt": "None"}]}, "mark": {"type": "text", "align": "left"}, "encoding": {"x": {"field": "col", "type": "nominal", "scale": {"type": "band", "domain": ["Filtering", "Added noise"], "paddingInner": 0, "paddingOuter": 0.2364, "align": 0.448}, "axis": null, "bandPosition": 0}, "text": {"field": "txt"}}},
 {"data": {"values": [{}]}, "mark": "rule", "encoding": {"y": {"datum": 1, "type": "quantitative", "scale": {"domain": [0, 1]}, "axis": null}}}]},

{"width": 90, "height": 225.4, "data": {"values": [{"name": "clean"}]}, "layer": [{"mark": "text", "encoding": {"text": {"field": "name"}}}, {"mark": "rule", "encoding": {"y": {"datum": 1, "type": "quantitative", "scale": {"domain": [0, 1]}, "axis": null}}}]},
{"width": 64, "height": 225.4, "data": {"values": [{}]}, "mark": "rule", "encoding": {"y": {"datum": 1, "type": "quantitative", "scale": {"domain": [0, 1]}, "axis": null}}},
{"width": 287, "height": 182, "layer": [
 {"data": {"name": "clean"}, "mark": {"type": "line", "strokeWidth": 1.2, "clip": true}, "encoding": {"x": {"field": "t", "type": "quantitative", "scale": {"domain": [0, 10], "nice": false}, "axis": {"values": [0,1,2,3,4,5,6,7,8,9,10], "title": "sec"}}, "y": {"field": "v", "type": "quantitative", "scale": {"domain": [-190, 1600], "nice": false, "zero": false}, "axis": {"values": [0,500,1000,1500], "title": "ECG"}}, "color": {"datum": "clean", "type": "nominal", "scale": {"domain": ["clean"], "range": ["#0072BD"]}, "legend": {"title": null}}}},
 {"data": {"values": [{}]}, "mark": "rule", "encoding": {"y": {"datum": 1600, "type": "quantitative", "axis": {"values": [0,500,1000,1500], "title": "ECG"}}}}
]},
{"width": 455, "height": 225.4, "layer": [
 {"data": {"values": [{"col": "Filtering", "txt": "Isoline corr.\nBase. rem.\nLo pass\nHi pass\nNotch"}]}, "mark": {"type": "text", "align": "left", "lineBreak": "\n", "lineHeight": 32, "dy": -64}, "encoding": {"x": {"field": "col", "type": "nominal", "scale": {"type": "band", "domain": ["Filtering", "Added noise"], "paddingInner": 0, "paddingOuter": 0.2364, "align": 0.448}, "axis": null, "bandPosition": 0}, "text": {"field": "txt"}}},
 {"data": {"values": [{"col": "Added noise", "txt": "None"}]}, "mark": {"type": "text", "align": "left"}, "encoding": {"x": {"field": "col", "type": "nominal", "scale": {"type": "band", "domain": ["Filtering", "Added noise"], "paddingInner": 0, "paddingOuter": 0.2364, "align": 0.448}, "axis": null, "bandPosition": 0}, "text": {"field": "txt"}}},
 {"data": {"values": [{}]}, "mark": "rule", "encoding": {"y": {"datum": 1, "type": "quantitative", "scale": {"domain": [0, 1]}, "axis": null}}}]},

{"width": 90, "height": 225.4, "data": {"values": [{"name": "bw"}]}, "layer": [{"mark": "text", "encoding": {"text": {"field": "name"}}}, {"mark": "rule", "encoding": {"y": {"datum": 1, "type": "quantitative", "scale": {"domain": [0, 1]}, "axis": null}}}]},
{"width": 64, "height": 225.4, "data": {"values": [{}]}, "mark": "rule", "encoding": {"y": {"datum": 1, "type": "quantitative", "scale": {"domain": [0, 1]}, "axis": null}}},
{"width": 287, "height": 182, "layer": [
 {"data": {"name": "clean"}, "mark": {"type": "line", "strokeWidth": 1.2, "clip": true}, "encoding": {"x": {"field": "t", "type": "quantitative", "scale": {"domain": [0, 10], "nice": false}, "axis": {"values": [0,1,2,3,4,5,6,7,8,9,10], "title": "sec"}}, "y": {"field": "v", "type": "quantitative", "scale": {"domain": [-190, 1600], "nice": false, "zero": false}, "axis": {"values": [0,500,1000,1500], "title": "ECG"}}, "color": {"datum": "clean", "type": "nominal", "scale": {"domain": ["clean", "bw"], "range": ["#0072BD", "#D95319"]}, "legend": {"title": null}}}},
 {"data": {"name": "bw"}, "mark": {"type": "line", "strokeWidth": 2, "clip": true}, "encoding": {"x": {"field": "t", "type": "quantitative", "scale": {"domain": [0, 10], "nice": false}, "axis": {"values": [0,1,2,3,4,5,6,7,8,9,10], "title": "sec"}}, "y": {"field": "v", "type": "quantitative", "scale": {"domain": [-190, 1600], "nice": false, "zero": false}, "axis": {"values": [0,500,1000,1500], "title": "ECG"}}, "color": {"datum": "bw", "type": "nominal", "scale": {"domain": ["clean", "bw"], "range": ["#0072BD", "#D95319"]}, "legend": {"title": null}}}},
 {"data": {"values": [{}]}, "mark": "rule", "encoding": {"y": {"datum": 1600, "type": "quantitative", "axis": {"values": [0,500,1000,1500], "title": "ECG"}}}}
]},
{"width": 455, "height": 225.4, "layer": [
 {"data": {"values": [{"col": "Filtering", "txt": "Isoline corr.\nBase. rem.\nLo pass\nHi pass\nNotch"}]}, "mark": {"type": "text", "align": "left", "lineBreak": "\n", "lineHeight": 32, "dy": -64}, "encoding": {"x": {"field": "col", "type": "nominal", "scale": {"type": "band", "domain": ["Filtering", "Added noise"], "paddingInner": 0, "paddingOuter": 0.2364, "align": 0.448}, "axis": null, "bandPosition": 0}, "text": {"field": "txt"}}},
 {"data": {"values": [{"col": "Added noise", "txt": "Baseline wander"}]}, "mark": {"type": "text", "align": "left"}, "encoding": {"x": {"field": "col", "type": "nominal", "scale": {"type": "band", "domain": ["Filtering", "Added noise"], "paddingInner": 0, "paddingOuter": 0.2364, "align": 0.448}, "axis": null, "bandPosition": 0}, "text": {"field": "txt"}}},
 {"data": {"values": [{}]}, "mark": "rule", "encoding": {"y": {"datum": 1, "type": "quantitative", "scale": {"domain": [0, 1]}, "axis": null}}}]},

{"width": 90, "height": 225.4, "data": {"values": [{"name": "em"}]}, "layer": [{"mark": "text", "encoding": {"text": {"field": "name"}}}, {"mark": "rule", "encoding": {"y": {"datum": 1, "type": "quantitative", "scale": {"domain": [0, 1]}, "axis": null}}}]},
{"width": 64, "height": 225.4, "data": {"values": [{}]}, "mark": "rule", "encoding": {"y": {"datum": 1, "type": "quantitative", "scale": {"domain": [0, 1]}, "axis": null}}},
{"width": 287, "height": 182, "layer": [
 {"data": {"name": "clean"}, "mark": {"type": "line", "strokeWidth": 1.2, "clip": true}, "encoding": {"x": {"field": "t", "type": "quantitative", "scale": {"domain": [0, 10], "nice": false}, "axis": {"values": [0,1,2,3,4,5,6,7,8,9,10], "title": "sec"}}, "y": {"field": "v", "type": "quantitative", "scale": {"domain": [-190, 1600], "nice": false, "zero": false}, "axis": {"values": [0,500,1000,1500], "title": "ECG"}}, "color": {"datum": "clean", "type": "nominal", "scale": {"domain": ["clean", "em"], "range": ["#0072BD", "#D95319"]}, "legend": {"title": null}}}},
 {"data": {"name": "em"}, "mark": {"type": "line", "strokeWidth": 2, "clip": true}, "encoding": {"x": {"field": "t", "type": "quantitative", "scale": {"domain": [0, 10], "nice": false}, "axis": {"values": [0,1,2,3,4,5,6,7,8,9,10], "title": "sec"}}, "y": {"field": "v", "type": "quantitative", "scale": {"domain": [-190, 1600], "nice": false, "zero": false}, "axis": {"values": [0,500,1000,1500], "title": "ECG"}}, "color": {"datum": "em", "type": "nominal", "scale": {"domain": ["clean", "em"], "range": ["#0072BD", "#D95319"]}, "legend": {"title": null}}}},
 {"data": {"values": [{}]}, "mark": "rule", "encoding": {"y": {"datum": 1600, "type": "quantitative", "axis": {"values": [0,500,1000,1500], "title": "ECG"}}}}
]},
{"width": 455, "height": 225.4, "layer": [
 {"data": {"values": [{"col": "Filtering", "txt": "Isoline corr.\nBase. rem.\nLo pass\nHi pass\nNotch"}]}, "mark": {"type": "text", "align": "left", "lineBreak": "\n", "lineHeight": 32, "dy": -64}, "encoding": {"x": {"field": "col", "type": "nominal", "scale": {"type": "band", "domain": ["Filtering", "Added noise"], "paddingInner": 0, "paddingOuter": 0.2364, "align": 0.448}, "axis": null, "bandPosition": 0}, "text": {"field": "txt"}}},
 {"data": {"values": [{"col": "Added noise", "txt": "Electrode movement"}]}, "mark": {"type": "text", "align": "left"}, "encoding": {"x": {"field": "col", "type": "nominal", "scale": {"type": "band", "domain": ["Filtering", "Added noise"], "paddingInner": 0, "paddingOuter": 0.2364, "align": 0.448}, "axis": null, "bandPosition": 0}, "text": {"field": "txt"}}},
 {"data": {"values": [{}]}, "mark": "rule", "encoding": {"y": {"datum": 1, "type": "quantitative", "scale": {"domain": [0, 1]}, "axis": null}}}]},

{"width": 90, "height": 225.4, "data": {"values": [{"name": "ma"}]}, "layer": [{"mark": "text", "encoding": {"text": {"field": "name"}}}, {"mark": "rule", "encoding": {"y": {"datum": 1, "type": "quantitative", "scale": {"domain": [0, 1]}, "axis": null}}}]},
{"width": 64, "height": 225.4, "data": {"values": [{}]}, "mark": "rule", "encoding": {"y": {"datum": 1, "type": "quantitative", "scale": {"domain": [0, 1]}, "axis": null}}},
{"width": 287, "height": 182, "layer": [
 {"data": {"name": "clean"}, "mark": {"type": "line", "strokeWidth": 1.2, "clip": true}, "encoding": {"x": {"field": "t", "type": "quantitative", "scale": {"domain": [0, 10], "nice": false}, "axis": {"values": [0,1,2,3,4,5,6,7,8,9,10], "title": "sec"}}, "y": {"field": "v", "type": "quantitative", "scale": {"domain": [-190, 1600], "nice": false, "zero": false}, "axis": {"values": [0,500,1000,1500], "title": "ECG"}}, "color": {"datum": "clean", "type": "nominal", "scale": {"domain": ["clean", "ma"], "range": ["#0072BD", "#D95319"]}, "legend": {"title": null}}}},
 {"data": {"name": "ma"}, "mark": {"type": "line", "strokeWidth": 2, "clip": true}, "encoding": {"x": {"field": "t", "type": "quantitative", "scale": {"domain": [0, 10], "nice": false}, "axis": {"values": [0,1,2,3,4,5,6,7,8,9,10], "title": "sec"}}, "y": {"field": "v", "type": "quantitative", "scale": {"domain": [-190, 1600], "nice": false, "zero": false}, "axis": {"values": [0,500,1000,1500], "title": "ECG"}}, "color": {"datum": "ma", "type": "nominal", "scale": {"domain": ["clean", "ma"], "range": ["#0072BD", "#D95319"]}, "legend": {"title": null}}}},
 {"data": {"values": [{}]}, "mark": "rule", "encoding": {"y": {"datum": 1600, "type": "quantitative", "axis": {"values": [0,500,1000,1500], "title": "ECG"}}}}
]},
{"width": 455, "height": 225.4, "layer": [
 {"data": {"values": [{"col": "Filtering", "txt": "Isoline corr.\nBase. rem.\nLo pass\nHi pass\nNotch"}]}, "mark": {"type": "text", "align": "left", "lineBreak": "\n", "lineHeight": 32, "dy": -64}, "encoding": {"x": {"field": "col", "type": "nominal", "scale": {"type": "band", "domain": ["Filtering", "Added noise"], "paddingInner": 0, "paddingOuter": 0.2364, "align": 0.448}, "axis": null, "bandPosition": 0}, "text": {"field": "txt"}}},
 {"data": {"values": [{"col": "Added noise", "txt": "Motion artefact"}]}, "mark": {"type": "text", "align": "left"}, "encoding": {"x": {"field": "col", "type": "nominal", "scale": {"type": "band", "domain": ["Filtering", "Added noise"], "paddingInner": 0, "paddingOuter": 0.2364, "align": 0.448}, "axis": null, "bandPosition": 0}, "text": {"field": "txt"}}},
 {"data": {"values": [{}]}, "mark": "rule", "encoding": {"y": {"datum": 1, "type": "quantitative", "scale": {"domain": [0, 1]}, "axis": null}}}]},

{"width": 90, "height": 225.4, "data": {"values": [{"name": "all"}]}, "layer": [{"mark": "text", "encoding": {"text": {"field": "name"}}}, {"mark": "rule", "encoding": {"y": {"datum": 1, "type": "quantitative", "scale": {"domain": [0, 1]}, "axis": null}}}]},
{"width": 64, "height": 225.4, "data": {"values": [{}]}, "mark": "rule", "encoding": {"y": {"datum": 1, "type": "quantitative", "scale": {"domain": [0, 1]}, "axis": null}}},
{"width": 287, "height": 182, "layer": [
 {"data": {"name": "clean"}, "mark": {"type": "line", "strokeWidth": 1.2, "clip": true}, "encoding": {"x": {"field": "t", "type": "quantitative", "scale": {"domain": [0, 10], "nice": false}, "axis": {"values": [0,1,2,3,4,5,6,7,8,9,10], "title": "sec"}}, "y": {"field": "v", "type": "quantitative", "scale": {"domain": [-190, 1600], "nice": false, "zero": false}, "axis": {"values": [0,500,1000,1500], "title": "ECG"}}, "color": {"datum": "clean", "type": "nominal", "scale": {"domain": ["clean", "all"], "range": ["#0072BD", "#D95319"]}, "legend": {"title": null}}}},
 {"data": {"name": "all"}, "mark": {"type": "line", "strokeWidth": 2, "clip": true}, "encoding": {"x": {"field": "t", "type": "quantitative", "scale": {"domain": [0, 10], "nice": false}, "axis": {"values": [0,1,2,3,4,5,6,7,8,9,10], "title": "sec"}}, "y": {"field": "v", "type": "quantitative", "scale": {"domain": [-190, 1600], "nice": false, "zero": false}, "axis": {"values": [0,500,1000,1500], "title": "ECG"}}, "color": {"datum": "all", "type": "nominal", "scale": {"domain": ["clean", "all"], "range": ["#0072BD", "#D95319"]}, "legend": {"title": null}}}},
 {"data": {"values": [{}]}, "mark": "rule", "encoding": {"y": {"datum": 1600, "type": "quantitative", "axis": {"values": [0,500,1000,1500], "title": "ECG"}}}}
]},
{"width": 455, "height": 225.4, "layer": [
 {"data": {"values": [{"col": "Filtering", "txt": "Isoline corr.\nBase. rem.\nLo pass\nHi pass\nNotch"}]}, "mark": {"type": "text", "align": "left", "lineBreak": "\n", "lineHeight": 32, "dy": -64}, "encoding": {"x": {"field": "col", "type": "nominal", "scale": {"type": "band", "domain": ["Filtering", "Added noise"], "paddingInner": 0, "paddingOuter": 0.2364, "align": 0.448}, "axis": null, "bandPosition": 0}, "text": {"field": "txt"}}},
 {"data": {"values": [{"col": "Added noise", "txt": "Baseline wander\nElectrode movement\nMotion artefact"}]}, "mark": {"type": "text", "align": "left", "lineBreak": "\n", "lineHeight": 32, "dy": -32}, "encoding": {"x": {"field": "col", "type": "nominal", "scale": {"type": "band", "domain": ["Filtering", "Added noise"], "paddingInner": 0, "paddingOuter": 0.2364, "align": 0.448}, "axis": null, "bandPosition": 0}, "text": {"field": "txt"}}},
 {"data": {"values": [{}]}, "mark": "rule", "encoding": {"y": {"datum": 1, "type": "quantitative", "scale": {"domain": [0, 1]}, "axis": null}}}]}
]
}
